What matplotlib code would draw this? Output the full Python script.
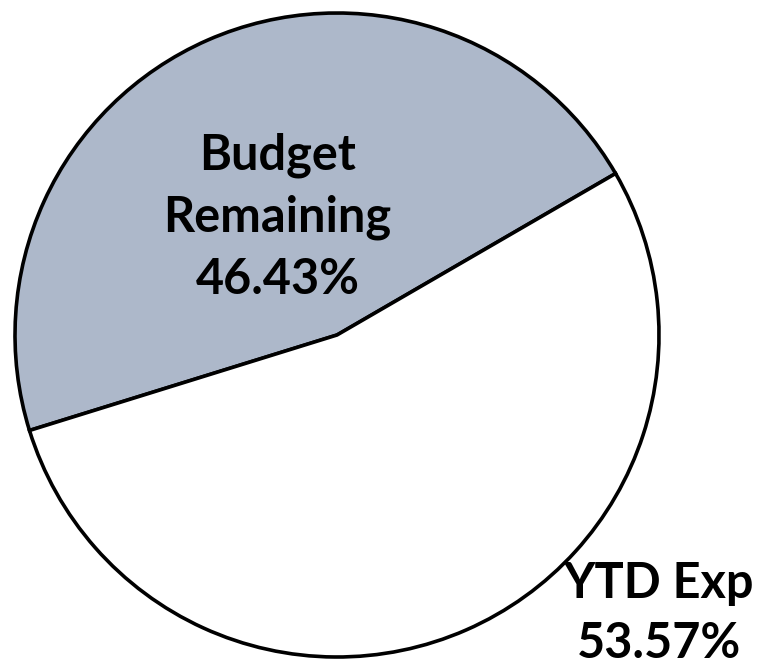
import matplotlib
matplotlib.use("Agg")
import matplotlib.pyplot as plt

labels = ["Budget\nRemaining", "YTD Exp"]
values = [46.43, 53.57]
colors = ["#ADB8CA", "#FFFFFF"]

W, H, DPI = 757, 668, 100
cx, cy, R = 337, 335, 322

fig = plt.figure(figsize=(W / DPI, H / DPI), dpi=DPI)
ax = fig.add_axes([0, 0, 1, 1])

ax.pie(values, colors=colors, startangle=30.1, counterclock=True,
       radius=1.0, center=(0, 0), frame=False,
       wedgeprops=dict(edgecolor="black", linewidth=2.6, joinstyle="miter"))
ax.set_xlim(-cx / R, (W - cx) / R)
ax.set_ylim(-(H - cy) / R, cy / R)
ax.set_aspect("equal")
ax.axis("off")

font = dict(family=["Lato", "DejaVu Sans"], fontweight="bold", fontsize=35,
            color="black", ha="center", va="center")
pos = [(-0.185, 0.365), (1.0, -0.865)]
spacing = [1.46, 1.38]
for lab, v, (x, y), ls in zip(labels, values, pos, spacing):
    ax.text(x, y, f"{lab}\n{v:.2f}%", linespacing=ls, **font)

fig.savefig("out.png", dpi=DPI)
